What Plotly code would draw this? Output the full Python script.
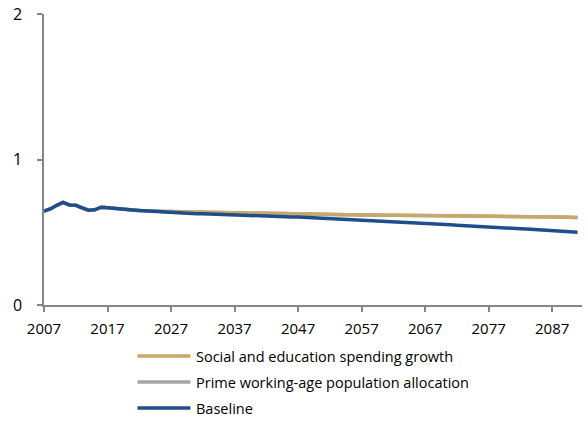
import plotly.graph_objects as go

# annual series, 2007-2091
years = list(range(2007, 2092))

baseline = [
    0.645, 0.660, 0.685, 0.705, 0.688, 0.685, 0.668, 0.652, 0.654, 0.672,
    0.668, 0.663, 0.659, 0.656, 0.653, 0.650, 0.647, 0.645, 0.642, 0.640,
    0.637, 0.634, 0.632, 0.630, 0.628, 0.627, 0.625, 0.623, 0.622, 0.620,
    0.618, 0.617, 0.615, 0.613, 0.612, 0.611, 0.609, 0.608, 0.607, 0.605,
    0.604, 0.602, 0.600, 0.598, 0.596, 0.594, 0.592, 0.590, 0.588, 0.586,
    0.584, 0.582, 0.580, 0.577, 0.575, 0.572, 0.570, 0.568, 0.566, 0.563,
    0.561, 0.559, 0.557, 0.555, 0.551, 0.548, 0.545, 0.543, 0.540, 0.538,
    0.536, 0.533, 0.531, 0.529, 0.527, 0.524, 0.522, 0.519, 0.517, 0.514,
    0.512, 0.509, 0.506, 0.503, 0.500,
]

social_spending = [
    0.645, 0.660, 0.685, 0.705, 0.688, 0.685, 0.668, 0.652, 0.654, 0.672,
    0.668, 0.663, 0.659, 0.656, 0.653, 0.650, 0.647, 0.645, 0.644, 0.643,
    0.642, 0.641, 0.640, 0.639, 0.638, 0.637, 0.636, 0.635, 0.634, 0.633,
    0.632, 0.631, 0.630, 0.629, 0.628, 0.627, 0.626, 0.625, 0.624, 0.623,
    0.622, 0.621, 0.620, 0.619, 0.619, 0.619, 0.619, 0.619, 0.619, 0.619,
    0.618, 0.618, 0.618, 0.618, 0.617, 0.617, 0.617, 0.616, 0.616, 0.616,
    0.615, 0.615, 0.614, 0.614, 0.613, 0.613, 0.612, 0.612, 0.611, 0.611,
    0.610, 0.610, 0.609, 0.609, 0.608, 0.607, 0.607, 0.606, 0.606, 0.605,
    0.605, 0.604, 0.603, 0.602, 0.601,
]

# hidden under the tan line in the original
prime_working_age = list(social_spending)

series_names = [
    "Social and education spending growth",
    "Prime working-age population allocation",
    "Baseline",
]
x_ticks = list(range(2007, 2088, 10))
y_ticks = [0, 1, 2]

_FONT = dict(family="Open Sans, sans-serif", size=14.5, color="#000000")
_AXIS = "#868686"
_COLORS = {
    "Social and education spending growth": "#C6A86A",
    "Prime working-age population allocation": "#A5A5A5",
    "Baseline": "#1F4E8C",
}

# plot area in pixels
_L, _R, _T, _B = 43.5, 581.7, 14.3, 305.0
_PW, _PH = _R - _L, _B - _T

fig = go.Figure()

# draw order: gray, tan, blue on top
for name, values in [
    (series_names[1], prime_working_age),
    (series_names[0], social_spending),
    (series_names[2], baseline),
]:
    fig.add_trace(go.Scatter(
        x=years, y=values, mode="lines", name=name,
        line=dict(color=_COLORS[name], width=3.5),
        showlegend=False,
    ))

# legend drawn by hand (longer line samples, as in the original)
legend_px = [356, 382, 408]
for name, py in zip(series_names, legend_px):
    ly = (_B - py) / _PH
    fig.add_shape(
        type="line", xref="paper", yref="paper",
        x0=(137 - _L) / _PW, x1=(190 - _L) / _PW, y0=ly, y1=ly,
        line=dict(color=_COLORS[name], width=3.5),
    )
    fig.add_annotation(
        xref="paper", yref="paper", x=(194 - _L) / _PW, y=ly,
        text=name, showarrow=False, xanchor="left", yanchor="middle",
        font=_FONT,
    )

fig.update_layout(
    width=588, height=421,
    margin=dict(l=_L, r=588 - _R, t=_T, b=421 - _B, autoexpand=False),
    paper_bgcolor="white", plot_bgcolor="white",
    font=_FONT,
    showlegend=False,
    xaxis=dict(
        range=[2007, 2091.7], tickvals=x_ticks,
        showgrid=False, zeroline=False, automargin=False,
        showline=True, linecolor=_AXIS, linewidth=1.5,
        ticks="outside", tickcolor=_AXIS, ticklen=5, tickwidth=1.5,
        ticklabelstandoff=4, tickfont=dict(size=15),
    ),
    yaxis=dict(
        range=[0, 2], tickvals=y_ticks,
        showgrid=False, zeroline=False, automargin=False,
        showline=True, linecolor=_AXIS, linewidth=1.5,
        ticks="outside", tickcolor=_AXIS, ticklen=5, tickwidth=1.5,
        ticklabelstandoff=12, tickfont=dict(size=16),
    ),
)

fig.write_html(
    "out.html",
    config={"displayModeBar": False},
    post_script="document.body.style.margin='0';",
)
